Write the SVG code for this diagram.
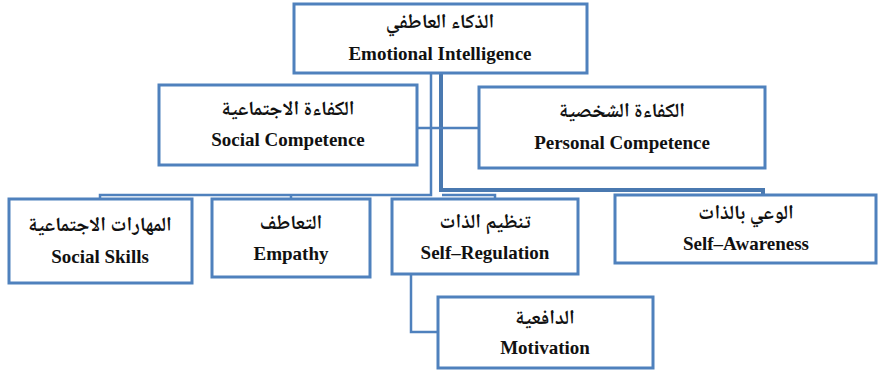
<svg xmlns="http://www.w3.org/2000/svg" width="878" height="372" viewBox="0 0 878 372">
<style>
.box{fill:#fff;stroke:#4f81bd;stroke-width:3}
.ar{font-family:"Noto Naskh Arabic","DejaVu Sans",serif;font-weight:bold;font-size:20px;text-anchor:middle;fill:#111}
.en{font-family:"Liberation Serif",serif;font-weight:bold;font-size:19px;text-anchor:middle;fill:#111}
.c{fill:none;stroke:#4f81bd;stroke-width:2.5}
.ct{fill:none;stroke:#4a79b0;stroke-width:4}
</style>
<rect width="878" height="372" fill="#fff"/>
<g id="connectors">
<path class="c" d="M431 73 V195 H100 V199"/>
<path class="c" d="M291 195 V199"/>
<path class="c" d="M442 195 H495 V199"/>
<path class="ct" d="M441 73 V190 H763 V195"/>
<path class="c" d="M416 128 H479"/>
<path class="c" d="M411 275 V332 H438"/>
</g>
<g id="n-ei"><rect class="box" x="294" y="4" width="293" height="69"/><text class="ar" x="440" y="28">الذكاء العاطفي</text><text class="en" x="440" y="60">Emotional Intelligence</text></g>
<g id="n-sc"><rect class="box" x="159" y="85" width="258" height="80"/><text class="ar" x="288" y="115">الكفاءة الاجتماعية</text><text class="en" x="288" y="146">Social Competence</text></g>
<g id="n-pc"><rect class="box" x="479" y="87" width="286" height="81"/><text class="ar" x="622" y="117">الكفاءة الشخصية</text><text class="en" x="622" y="149">Personal Competence</text></g>
<g id="n-ss"><rect class="box" x="9" y="199" width="183" height="84"/><text class="ar" x="100" y="231">المهارات الاجتماعية</text><text class="en" x="100" y="263">Social Skills</text></g>
<g id="n-em"><rect class="box" x="212" y="199" width="158" height="78"/><text class="ar" x="291" y="229">التعاطف</text><text class="en" x="291" y="260">Empathy</text></g>
<g id="n-sr"><rect class="box" x="392" y="199" width="186" height="75"/><text class="ar" x="485" y="228">تنظيم الذات</text><text class="en" x="485" y="259">Self–Regulation</text></g>
<g id="n-sa"><rect class="box" x="615" y="195" width="261" height="68"/><text class="ar" x="746" y="219">الوعي بالذات</text><text class="en" x="746" y="250">Self–Awareness</text></g>
<g id="n-mo"><rect class="box" x="438" y="297" width="215" height="71"/><text class="ar" x="545" y="324">الدافعية</text><text class="en" x="545" y="354">Motivation</text></g>
</svg>
